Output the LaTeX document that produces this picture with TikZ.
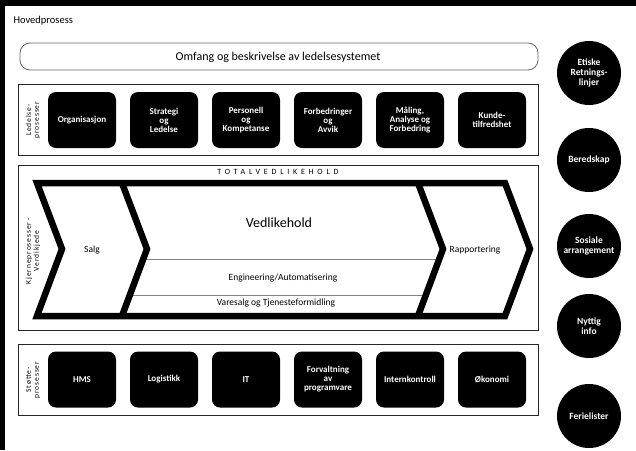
\documentclass[tikz,border=0pt]{standalone}
\usepackage{fontspec}
\setmainfont{Carlito}
\usetikzlibrary{positioning}
\tikzset{proc box/.style={rectangle,rounded corners=8pt,fill=black,text=white,minimum width=68pt,minimum height=56pt,inner sep=1pt,align=center,font=\fontsize{9}{9}\selectfont\bfseries},
info circle/.style={circle,fill=black,text=white,minimum size=64pt,inner sep=0pt,align=center,font=\fontsize{9.5}{10}\selectfont\bfseries},
group frame/.style={draw=black!85,line width=0.8pt},
side label/.style={rotate=90,align=center,font=\fontsize{7.5}{8}\selectfont\addfontfeature{LetterSpace=12}},
chev line/.style={line width=6.5pt},
band line/.style={draw=black!50,line width=0.8pt},}
\newcommand{\chev}[1]{\draw[chev line] (#1,183) -- ++(25,66) -- ++(-25,67);}

\begin{document}
\begin{tikzpicture}[x=1pt,y=-1pt]
        \useasboundingbox (0,0) rectangle (636,450);
        \fill (0,0) rectangle (636,6);
        \fill (0,0) rectangle (5,450);
        \node[anchor=west,font=\fontsize{10.5}{12}\selectfont] (hoved) at (10,21) {Hovedprosess};

        % omfang
        \draw[draw=black!60,line width=0.8pt,rounded corners=10pt] (20,43) rectangle (538,70);
        \node[font=\fontsize{12}{14}\selectfont] (omfang) at (278,57) {Omfang og beskrivelse av ledelsesystemet};

        % ledelsesprosesser
        \draw[group frame] (18,84) rectangle (538,155);
        \node[side label] (led) at (33,120) {Ledelse-\\prosesser};
        \node[proc box] (org) at (82,120) {Organisasjon};
        \node[proc box] (strat) [right=13.6pt of org] {Strategi\\og\\Ledelse};
        \node[proc box] (pers) [right=13.6pt of strat] {Personell\\og\\Kompetanse};
        \node[proc box] (forb) [right=13.6pt of pers] {Forbedringer\\og\\Avvik};
        \node[proc box] (maal) [right=13.6pt of forb] {Måling,\\Analyse og\\Forbedring};
        \node[proc box] (kunde) [right=13.6pt of maal] {Kunde-\\tilfredshet};

        % kjerneprosesser
        \draw[group frame] (18,165) rectangle (538,330);
        \node[side label] (kjerne) at (33,251) {Kjerneprosesser -\\Verdikjede};
        \node[font=\fontsize{8}{10}\selectfont\addfontfeature{LetterSpace=47}] (total) at (278,172) {TOTALVEDLIKEHOLD};
        \draw[band line] (143,259) -- (439,259);
        \draw[band line] (130,295) -- (426,295);
        \draw[chev line] (62,249) -- (37,183) -- (505,183) -- (530,249) -- (505,316) -- (37,316) -- cycle;
        \chev{122}
        \chev{418}
        \node[font=\fontsize{9.5}{11}\selectfont] (salg) at (92,250) {Salg};
        \node[font=\fontsize{14}{16}\selectfont] (vedl) at (279,223) {Vedlikehold};
        \node[font=\fontsize{9.5}{11}\selectfont] (eng) at (283,278) {Engineering/Automatisering};
        \node[font=\fontsize{9.5}{11}\selectfont] (vare) at (276,303) {Varesalg og Tjenesteformidling};
        \node[font=\fontsize{9.5}{11}\selectfont] (rapp) at (475,250) {Rapportering};

        % stotteprosesser
        \draw[group frame] (18,344) rectangle (538,415);
        \node[side label] (stotte) at (33,380) {Støtte-\\prosesser};
        \node[proc box] (hms) at (82,379.5) {HMS};
        \node[proc box] (log) [right=13.6pt of hms] {Logistikk};
        \node[proc box] (it) [right=13.6pt of log] {IT};
        \node[proc box] (forv) [right=13.6pt of it] {Forvaltning\\av\\programvare};
        \node[proc box] (intk) [right=13.6pt of forv] {Internkontroll};
        \node[proc box] (okon) [right=13.6pt of intk] {Økonomi};

        % sirkler
        \node[info circle] (etisk) at (589,73) {Etiske\\Retnings-\\linjer};
        \node[info circle] (bered) at (589,160) {Beredskap};
        \node[info circle] (sosial) at (589,246) {Sosiale\\arrangement};
        \node[info circle] (nyttig) at (589,326) {Nyttig\\info};
        \node[info circle] (ferie) at (589,416) {Ferielister};
    \end{tikzpicture}
\end{document}
